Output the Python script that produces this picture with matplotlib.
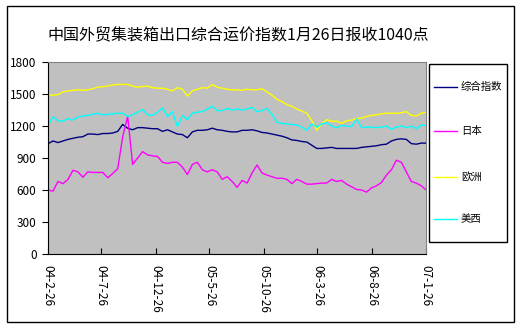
import matplotlib
matplotlib.use('Agg')
import matplotlib.pyplot as plt
from matplotlib.patches import Rectangle
from matplotlib.lines import Line2D
import pandas as pd

plt.rcParams['font.family'] = ['Noto Sans CJK SC', 'DejaVu Sans']

# biweekly readings, 2004-02 .. 2007-01-26
dates = pd.date_range(end='2007-01-26', periods=77, freq='14D')

composite = [1035, 1060, 1045, 1060, 1075, 1085, 1095, 1100, 1125, 1125,
             1120, 1130, 1130, 1135, 1150, 1215, 1180, 1165, 1185, 1185,
             1180, 1175, 1175, 1150, 1165, 1145, 1125, 1120, 1090, 1145,
             1160, 1160, 1165, 1180, 1165, 1160, 1150, 1145, 1145, 1160,
             1160, 1165, 1155, 1140, 1135, 1125, 1115, 1105, 1090, 1070,
             1065, 1055, 1050, 1020, 990, 990, 995, 1000, 990, 990,
             990, 990, 990, 1000, 1005, 1010, 1015, 1025, 1030, 1060,
             1075, 1080, 1075, 1035, 1030, 1040, 1040]

japan = [600, 590, 680, 660, 700, 785, 770, 720, 770, 765,
         765, 765, 715, 755, 800, 1100, 1290, 840, 900, 960,
         930, 920, 915, 860, 850, 860, 860, 815, 745, 840,
         860, 790, 770, 790, 770, 700, 725, 680, 625, 690,
         665, 760, 835, 760, 740, 725, 710, 710, 700, 660,
         700, 680, 655, 655, 660, 665, 665, 700, 680, 690,
         655, 630, 605, 600, 580, 620, 640, 670, 740, 790,
         880, 860, 770, 680, 665, 640, 600]

europe = [1490, 1490, 1495, 1520, 1530, 1535, 1540, 1535, 1540, 1550,
          1565, 1570, 1575, 1585, 1590, 1590, 1590, 1575, 1565, 1570,
          1575, 1560, 1555, 1555, 1545, 1530, 1560, 1545, 1480, 1530,
          1545, 1560, 1555, 1590, 1565, 1555, 1545, 1540, 1540, 1535,
          1545, 1540, 1540, 1550, 1520, 1490, 1450, 1430, 1400, 1385,
          1360, 1340, 1320, 1250, 1160, 1220, 1260, 1245, 1245, 1225,
          1250, 1255, 1270, 1275, 1290, 1300, 1305, 1315, 1320, 1320,
          1320, 1325, 1335, 1300, 1295, 1320, 1330]

uswest = [1210, 1285, 1250, 1245, 1270, 1255, 1285, 1295, 1300, 1310,
          1320, 1305, 1310, 1315, 1320, 1320, 1290, 1305, 1330, 1355,
          1305, 1300, 1330, 1370, 1290, 1335, 1195, 1300, 1260, 1320,
          1330, 1335, 1360, 1385, 1345, 1345, 1365, 1350, 1360, 1350,
          1360, 1375, 1335, 1345, 1365, 1310, 1235, 1225, 1220, 1215,
          1210, 1190, 1160, 1220, 1190, 1220, 1230, 1200, 1185, 1205,
          1200, 1195, 1265, 1185, 1190, 1190, 1185, 1190, 1200, 1170,
          1190, 1200, 1185, 1200, 1175, 1210, 1205]

series_names = ['综合指数', '日本', '欧洲', '美西']
series_colors = ['#000080', '#FF00FF', '#FFFF00', '#00FFFF']

tick_dates = ['2004-02-26', '2004-07-26', '2004-12-26', '2005-05-26',
              '2005-10-26', '2006-03-26', '2006-08-26', '2007-01-26']
tick_labels = ['04-2-26', '04-7-26', '04-12-26', '05-5-26',
               '05-10-26', '06-3-26', '06-8-26', '07-1-26']
yticks = [0, 300, 600, 900, 1200, 1500, 1800]

W, H = 520, 332
fig = plt.figure(figsize=(W / 100, H / 100), dpi=100)
ax = fig.add_axes([0.0917, 0.235, 0.728, 0.578])
ax.set_facecolor('#C0C0C0')

for vals, name, col in zip([composite, japan, europe, uswest], series_names, series_colors):
    ax.plot(dates, vals, color=col, lw=1, label=name)

ax.set_xlim(pd.Timestamp('2004-02-26'), pd.Timestamp('2007-01-26'))
ax.set_ylim(0, 1800)
ax.set_yticks(yticks)
ax.set_yticklabels([str(v) for v in yticks], fontsize=8.5)
ax.set_xticks(pd.to_datetime(tick_dates))
ax.set_xticklabels(tick_labels, rotation=-90, fontsize=8.5, va='top')
ax.tick_params(axis='y', direction='out', length=4, width=0.8, pad=4)
ax.tick_params(axis='x', direction='in', length=4, width=0.8, pad=8)

for side in ['top', 'right']:
    ax.spines[side].set_color('#808080')
for side in ['left', 'bottom']:
    ax.spines[side].set_color('black')

fig.text(0.458, 0.893, '中国外贸集装箱出口综合运价指数1月26日报收1040点',
         ha='center', va='center', fontsize=11.5)

# legend box drawn by hand, Excel-style spacing
fig.patches.append(Rectangle((429 / W, 1 - 242 / H), 78 / W, 178 / H,
                             transform=fig.transFigure, fill=False,
                             edgecolor='black', lw=1))
for yy, name, col in zip([87, 131, 177, 219], series_names, series_colors):
    fig.lines.append(Line2D([434 / W, 457 / W], [1 - yy / H, 1 - yy / H],
                            transform=fig.transFigure, color=col, lw=1))
    fig.text(461 / W, 1 - yy / H, name, ha='left', va='center', fontsize=7.5)

fig.patches.append(Rectangle((7 / W, 10 / H), 507 / W, 316 / H,
                             transform=fig.transFigure, fill=False,
                             edgecolor='black', lw=1))

fig.savefig('out.png', dpi=100)
